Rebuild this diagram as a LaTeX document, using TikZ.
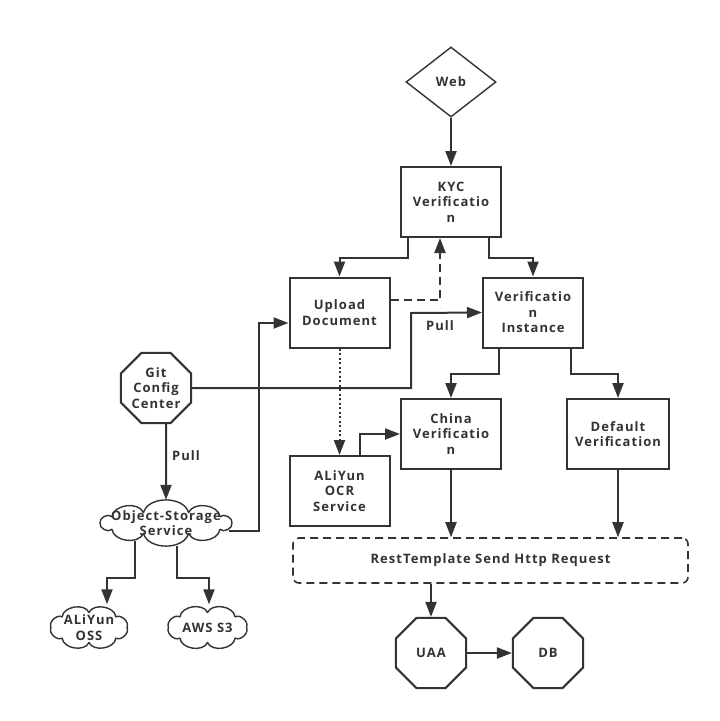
\documentclass[tikz,border=0pt]{standalone}
\usepackage{fontspec}
\setmainfont{Open Sans}[LetterSpace=8]
\usetikzlibrary{arrows.meta,shapes.geometric,calc}
\definecolor{ink}{HTML}{333333}
% puffy outline round a node: name, half width and half height of the ring,
% angles of the dips between the puffs (ending with 360)
\newcommand\puffring[4]{%
  \begin{scope}[x=1pt,y=1pt]
  \draw[cloudline] ($(#1.center)+(0:#2 and #3)$)
    \foreach \t in {#4} { to[bend right=75] ($(#1.center)+(\t:#2 and #3)$) } -- cycle;
  \end{scope}}
\begin{document}
\begin{tikzpicture}[x=1pt,y=-1pt,
  every node/.style={font=\fontsize{13pt}{15.5pt}\selectfont\bfseries, text=ink, align=center},
  box/.style={draw=ink, line width=2pt, rectangle, minimum width=100pt, minimum height=70pt, inner sep=0pt},
  octo/.style={draw=ink, line width=2pt, regular polygon, regular polygon sides=8, minimum size=76pt, inner sep=0pt},
  cloudtext/.style={rectangle, minimum height=46pt, inner sep=0pt},
  cloudline/.style={draw=ink, line width=1.4pt, line join=round},
  rhomb/.style={draw=ink, line width=1.4pt, diamond, minimum width=90pt, minimum height=70pt, inner sep=0pt},
  wire/.style={draw=ink, line width=2pt},
  arr/.style={wire, -{Triangle[length=15pt,width=11pt]}},
  lbl/.style={inner sep=0pt}
]
\fill[white] (0,0) rectangle (720,721);
\useasboundingbox (0,0) rectangle (720,721);

% boxes, octagons and the diamond
\node[rhomb] (web) at (451,82) {Web};
\node[box] (kyc) at (451,202) {KYC\\Verificatio\\n};
\node[box] (upload) at (339.5,312.5) {Upload\\Document};
\node[box] (vi) at (533,312.5) {Verificatio\\n\\Instance};
\node[octo] (git) at (156,388) {Git\\Config\\Center};
\node[box] (ocr) at (339.5,491) {ALiYun\\OCR\\Service};
\node[box] (china) at (451,434) {China\\Verificatio\\n};
\node[box, minimum width=102pt] (default) at (618,434) {Default\\Verification};
\node[draw=ink, line width=1.6pt, dash pattern=on 8pt off 5pt, rounded corners=6pt,
      minimum width=395pt, minimum height=45pt, inner sep=0pt] (rest) at (490.5,560.5) {RestTemplate Send Http Request};
\node[octo] (uaa) at (431,653) {UAA};
\node[octo] (db) at (548,653) {DB};

% clouds
\node[cloudtext, minimum width=138pt] (objs) at (166,523) {Object-Storage\\Service};
\puffring{objs}{66}{11}{35,70,110,145,180,215,250,290,325,360}
\node[cloudtext, minimum width=84pt] (oss) at (89,627.5) {ALiYun\\OSS};
\puffring{oss}{38}{15}{45,90,135,180,225,270,315,360}
\node[cloudtext, minimum width=87pt] (aws) at (207.5,627.5) {AWS S3};
\puffring{aws}{39}{15}{45,90,135,180,225,270,315,360}

% connectors
\draw[arr] (web.south) -- (kyc.north);
\draw[arr] ([xshift=-43pt]kyc.south) -- ++(0,20) -| (upload.north);
\draw[arr] ([xshift=38pt]kyc.south) -- ++(0,20) -| (vi.north);
\draw[arr, dash pattern=on 8pt off 5pt] ([yshift=12.5pt]upload.east) -| ([xshift=-11pt]kyc.south);

\coordinate (pullbend) at (411,313);
\draw[arr] (git.east) -| (pullbend) -- (vi.west);
\node[lbl] (pull1) at (440,326) {Pull};

\draw[arr] ([xshift=10pt]git.south) -- (objs.north);
\node[lbl] (pull2) at (186,456) {Pull};

\coordinate (osbend) at (259,323);
\draw[arr] ([xshift=-6pt,yshift=-8pt]objs.east) -| (osbend) -- (upload.west |- osbend);

\draw[arr, dash pattern=on 2pt off 2.5pt] (upload.south) -- (ocr.north);
\draw[arr] ([xshift=20pt]ocr.north) |- (china.west);

\draw[arr] ([xshift=-34pt]vi.south) -- ++(0,25) -| (china.north);
\draw[arr] ([xshift=38pt]vi.south) -- ++(0,25) -| (default.north);

\draw[arr] (china.south) -- (china.south |- rest.north);
\draw[arr] (default.south) -- (default.south |- rest.north);
\draw[arr] (uaa.north |- rest.south) -- (uaa.north);
\draw[arr] (uaa.east) -- (db.west);

\coordinate (ossdrop) at ([xshift=-31pt]objs.south);
\coordinate (awsdrop) at ([xshift=11pt]objs.south);
\draw[arr] ([yshift=5pt]ossdrop) -- ([yshift=-32pt]ossdrop) -| ([xshift=18pt]oss.north);
\draw[arr] (awsdrop) -- ++(0,32) -| ([xshift=1.5pt]aws.north);
\end{tikzpicture}
\end{document}
